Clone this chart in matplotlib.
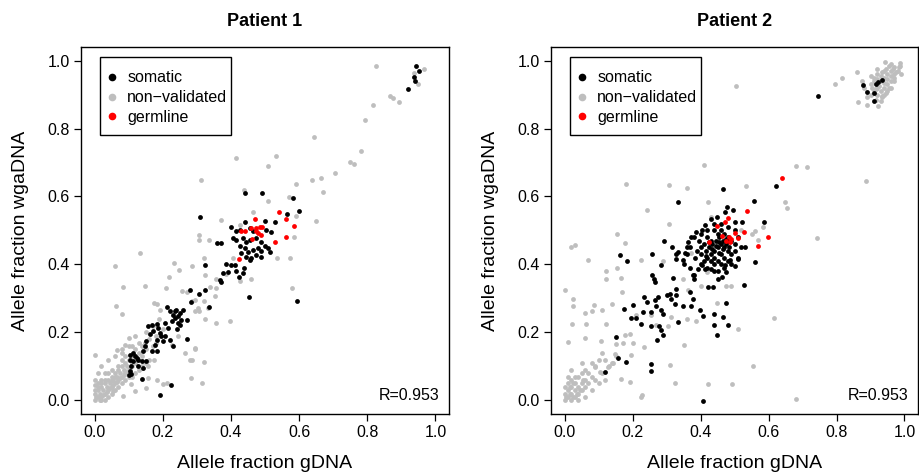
"""
Allele fraction in wgaDNA vs gDNA for two patients, somatic / non-validated /
germline calls.
"""

import matplotlib
matplotlib.use("Agg")
import matplotlib.pyplot as plt
from matplotlib.lines import Line2D
from matplotlib.patches import Rectangle
import numpy as np

plt.rcParams["font.family"] = ["Liberation Sans", "DejaVu Sans"]

GREY = "#BEBEBE"

# ---- Patient 1 : (gDNA, wgaDNA) ----
p1_nonvalid = [
	(0.826, 0.985), (0.968, 0.976), (0.937, 0.963), (0.948, 0.930),
	(0.868, 0.897), (0.875, 0.891), (0.892, 0.878), (0.816, 0.870),
	(0.794, 0.826), (0.644, 0.775), (0.782, 0.734), (0.748, 0.702),
	(0.760, 0.697), (0.706, 0.668), (0.416, 0.714), (0.533, 0.718),
	(0.509, 0.691), (0.663, 0.653), (0.639, 0.650), (0.590, 0.636),
	(0.670, 0.612), (0.312, 0.649), (0.439, 0.619), (0.509, 0.587),
	(0.570, 0.599), (0.592, 0.544), (0.465, 0.555), (0.651, 0.527),
	(0.371, 0.531), (0.585, 0.480), (0.535, 0.420), (0.572, 0.418),
	(0.580, 0.332), (0.396, 0.233), (0.357, 0.228), (0.323, 0.239),
	(0.305, 0.487), (0.305, 0.471), (0.336, 0.471), (0.133, 0.433),
	(0.060, 0.395), (0.082, 0.333), (0.149, 0.338), (0.218, 0.362),
	(0.232, 0.404), (0.248, 0.384), (0.209, 0.330), (0.286, 0.394),
	(0.320, 0.418), (0.324, 0.370), (0.355, 0.358), (0.387, 0.372),
	(0.428, 0.350), (0.460, 0.358), (0.271, 0.319), (0.294, 0.294),
	(0.321, 0.291), (0.353, 0.306), (0.304, 0.272), (0.079, 0.254),
	(0.064, 0.277), (0.182, 0.284), (0.426, 0.516), (0.406, 0.418),
	(0.357, 0.332), (0.338, 0.335), (0.294, 0.262), (0.265, 0.140),
	(0.294, 0.152), (0.279, 0.120), (0.321, 0.113), (0.284, 0.065),
	(0.316, 0.050), (0.213, 0.052), (0.182, 0.060), (0.152, 0.035),
	(0.108, 0.047), (0.084, 0.013), (0.055, 0.027), (0.000, 0.133),
	(0.065, 0.147), (0.100, 0.184), (0.090, 0.164), (0.080, 0.150),
	(0.109, 0.159), (0.148, 0.169), (0.173, 0.286), (0.192, 0.267),
	(0.256, 0.321), (0.285, 0.291), (0.305, 0.262), (0.334, 0.272),
	(0.295, 0.154), (0.285, 0.120), (0.202, 0.047), (0.158, 0.066),
	(0.119, 0.027), (0.246, 0.189), (0.227, 0.164), (0.173, 0.120),
	(0.158, 0.101), (0.139, 0.096),
	(0.00, 0.00), (0.01, 0.01), (0.02, 0.00), (0.01, 0.03), (0.03, 0.02),
	(0.02, 0.04), (0.04, 0.03), (0.03, 0.05), (0.05, 0.04), (0.04, 0.06),
	(0.06, 0.05), (0.05, 0.07), (0.07, 0.06), (0.06, 0.08), (0.08, 0.07),
	(0.07, 0.09), (0.09, 0.08), (0.08, 0.10), (0.10, 0.09), (0.09, 0.11),
	(0.11, 0.10), (0.10, 0.12), (0.12, 0.11), (0.11, 0.13), (0.13, 0.12),
	(0.00, 0.02), (0.02, 0.01), (0.01, 0.05), (0.03, 0.00), (0.05, 0.02),
	(0.04, 0.01), (0.06, 0.03), (0.02, 0.06), (0.03, 0.08), (0.05, 0.09),
	(0.07, 0.04), (0.08, 0.05), (0.09, 0.06), (0.10, 0.07), (0.12, 0.08),
	(0.01, 0.08), (0.00, 0.06), (0.02, 0.10), (0.04, 0.12), (0.06, 0.13),
	(0.08, 0.14), (0.10, 0.16), (0.12, 0.15), (0.14, 0.13), (0.15, 0.15),
	(0.13, 0.17), (0.16, 0.12), (0.14, 0.10), (0.17, 0.16), (0.12, 0.19),
	(0.15, 0.20), (0.18, 0.19), (0.20, 0.21), (0.19, 0.24), (0.17, 0.22),
	(0.015, 0.02), (0.025, 0.015), (0.035, 0.04), (0.045, 0.035),
	(0.055, 0.06), (0.065, 0.055), (0.075, 0.08), (0.085, 0.075),
	(0.095, 0.10), (0.105, 0.095), (0.005, 0.01), (0.015, 0.00),
	(0.025, 0.03), (0.035, 0.025), (0.045, 0.05), (0.055, 0.045),
	(0.065, 0.07), (0.075, 0.065), (0.085, 0.09), (0.095, 0.085),
	(0.00, 0.03), (0.00, 0.045), (0.01, 0.04), (0.02, 0.05), (0.03, 0.06),
	(0.04, 0.08), (0.05, 0.06), (0.06, 0.07), (0.07, 0.10), (0.08, 0.12),
	(0.09, 0.13), (0.11, 0.11), (0.12, 0.13), (0.13, 0.14), (0.14, 0.16),
	(0.16, 0.18), (0.18, 0.17), (0.11, 0.07), (0.13, 0.09), (0.15, 0.11),
]

p1_somatic = [
	(0.943, 0.985), (0.953, 0.968), (0.938, 0.951), (0.940, 0.941),
	(0.919, 0.915), (0.442, 0.610), (0.492, 0.610), (0.581, 0.595),
	(0.600, 0.558), (0.310, 0.541), (0.565, 0.548), (0.440, 0.525),
	(0.499, 0.527), (0.528, 0.526), (0.401, 0.509), (0.416, 0.497),
	(0.426, 0.501), (0.455, 0.506), (0.465, 0.497), (0.504, 0.501),
	(0.519, 0.495), (0.406, 0.477), (0.416, 0.472), (0.436, 0.477),
	(0.445, 0.467), (0.455, 0.472), (0.475, 0.477), (0.489, 0.467),
	(0.359, 0.463), (0.372, 0.463), (0.426, 0.453), (0.440, 0.448),
	(0.450, 0.438), (0.465, 0.443), (0.479, 0.448), (0.489, 0.440),
	(0.499, 0.453), (0.509, 0.448), (0.514, 0.438), (0.431, 0.433),
	(0.445, 0.423), (0.460, 0.418), (0.475, 0.428), (0.489, 0.423),
	(0.455, 0.413), (0.323, 0.398), (0.387, 0.401), (0.401, 0.399),
	(0.411, 0.399), (0.438, 0.391), (0.416, 0.381), (0.392, 0.379),
	(0.377, 0.374), (0.434, 0.374), (0.367, 0.355), (0.372, 0.348),
	(0.424, 0.363), (0.279, 0.326), (0.307, 0.313), (0.323, 0.326),
	(0.284, 0.289), (0.336, 0.274), (0.452, 0.305), (0.595, 0.291),
	(0.211, 0.274), (0.221, 0.262), (0.230, 0.252), (0.235, 0.242),
	(0.245, 0.247), (0.250, 0.257), (0.260, 0.267), (0.255, 0.238),
	(0.245, 0.228), (0.226, 0.233), (0.270, 0.238), (0.206, 0.228),
	(0.242, 0.211), (0.157, 0.218), (0.167, 0.223), (0.184, 0.225),
	(0.172, 0.203), (0.162, 0.194), (0.191, 0.198), (0.196, 0.189),
	(0.206, 0.189), (0.182, 0.179), (0.177, 0.164), (0.201, 0.174),
	(0.221, 0.179), (0.152, 0.174), (0.147, 0.159), (0.143, 0.145),
	(0.167, 0.145), (0.182, 0.145), (0.270, 0.182), (0.229, 0.159),
	(0.105, 0.135), (0.113, 0.140), (0.118, 0.130), (0.123, 0.125),
	(0.104, 0.120), (0.113, 0.115), (0.128, 0.120), (0.138, 0.117),
	(0.152, 0.117), (0.108, 0.101), (0.128, 0.101), (0.143, 0.096),
	(0.104, 0.086), (0.102, 0.076), (0.108, 0.078), (0.138, 0.062),
	(0.191, 0.016), (0.223, 0.044), (0.240, 0.267), (0.250, 0.223),
	(0.235, 0.262), (0.216, 0.213), (0.186, 0.213),
]

p1_germline = [
	(0.540, 0.555), (0.562, 0.534), (0.584, 0.512), (0.470, 0.533),
	(0.431, 0.499), (0.440, 0.497), (0.460, 0.508), (0.475, 0.506),
	(0.484, 0.511), (0.492, 0.511), (0.479, 0.492), (0.489, 0.487),
	(0.462, 0.475), (0.528, 0.467), (0.561, 0.481), (0.425, 0.415),
	(0.473, 0.499),
]

# ---- Patient 2 ----
p2_nonvalid = [
	(0.796, 0.931), (0.815, 0.948), (0.860, 0.966), (0.874, 0.941),
	(0.943, 0.997), (0.987, 0.993), (0.987, 0.985), (0.864, 0.878),
	(0.889, 0.870), (0.923, 0.866), (0.933, 0.892), (0.889, 0.892),
	(0.90, 0.93), (0.91, 0.95), (0.92, 0.96), (0.93, 0.94), (0.94, 0.95),
	(0.95, 0.96), (0.96, 0.97), (0.95, 0.93), (0.94, 0.92), (0.93, 0.91),
	(0.92, 0.90), (0.96, 0.94), (0.97, 0.96), (0.98, 0.97), (0.94, 0.97),
	(0.92, 0.92), (0.91, 0.91), (0.95, 0.91), (0.96, 0.92), (0.97, 0.94),
	(0.93, 0.88), (0.94, 0.90), (0.90, 0.90), (0.96, 0.99), (0.97, 0.98),
	(0.91, 0.94), (0.92, 0.945), (0.93, 0.955), (0.935, 0.965),
	(0.945, 0.975), (0.955, 0.985), (0.965, 0.975), (0.975, 0.965),
	(0.95, 0.945), (0.94, 0.935), (0.925, 0.925), (0.915, 0.915),
	(0.905, 0.92), (0.96, 0.955), (0.97, 0.95), (0.945, 0.905),
	(0.935, 0.895), (0.915, 0.885), (0.955, 0.92), (0.985, 0.98),
	(0.99, 0.96), (0.88, 0.92), (0.90, 0.955), (0.92, 0.975),
	(0.503, 0.924), (0.886, 0.645), (0.744, 0.478), (0.680, 0.691),
	(0.714, 0.686), (0.411, 0.693), (0.180, 0.638), (0.307, 0.635),
	(0.359, 0.624), (0.535, 0.632), (0.422, 0.584), (0.648, 0.585),
	(0.653, 0.566), (0.243, 0.561), (0.307, 0.519), (0.155, 0.489),
	(0.020, 0.451), (0.030, 0.456), (0.177, 0.462), (0.069, 0.412),
	(0.121, 0.380), (0.121, 0.358), (0.155, 0.389), (0.167, 0.361),
	(0.226, 0.412), (0.170, 0.319), (0.138, 0.284), (0.086, 0.281),
	(0.024, 0.299), (0.024, 0.279), (0.061, 0.258), (0.081, 0.262),
	(0.110, 0.265), (0.022, 0.225), (0.064, 0.225), (0.121, 0.225),
	(0.010, 0.172), (0.059, 0.183), (0.108, 0.176), (0.000, 0.326),
	(0.177, 0.193), (0.192, 0.196), (0.152, 0.167), (0.172, 0.170),
	(0.201, 0.170), (0.234, 0.157), (0.196, 0.134), (0.147, 0.137),
	(0.142, 0.109), (0.128, 0.098), (0.088, 0.098), (0.103, 0.083),
	(0.165, 0.062), (0.192, 0.054), (0.226, 0.010), (0.229, 0.017),
	(0.326, 0.052), (0.422, 0.049), (0.493, 0.049), (0.553, 0.100),
	(0.680, 0.005), (0.309, 0.105), (0.352, 0.164), (0.509, 0.211),
	(0.617, 0.242), (0.447, 0.286), (0.476, 0.338), (0.491, 0.338),
	(0.401, 0.336), (0.363, 0.326), (0.349, 0.358), (0.359, 0.240),
	(0.388, 0.235), (0.305, 0.219), (0.314, 0.245), (0.270, 0.221),
	(0.255, 0.250), (0.211, 0.250), (0.560, 0.497), (0.570, 0.471),
	(0.584, 0.510), (0.432, 0.409), (0.418, 0.377), (0.373, 0.434),
	(0.290, 0.409), (0.520, 0.500), (0.550, 0.490), (0.430, 0.540),
	(0.00, 0.00), (0.01, 0.01), (0.02, 0.00), (0.00, 0.02), (0.01, 0.03),
	(0.03, 0.01), (0.02, 0.02), (0.03, 0.03), (0.04, 0.02), (0.05, 0.03),
	(0.04, 0.04), (0.02, 0.04), (0.01, 0.05), (0.03, 0.05), (0.05, 0.05),
	(0.06, 0.04), (0.06, 0.06), (0.04, 0.07), (0.07, 0.05), (0.08, 0.07),
	(0.07, 0.08), (0.05, 0.08), (0.09, 0.06), (0.02, 0.06), (0.00, 0.04),
	(0.03, 0.07), (0.06, 0.01), (0.08, 0.03), (0.10, 0.05), (0.11, 0.08),
	(0.09, 0.10), (0.12, 0.06), (0.13, 0.10), (0.10, 0.12), (0.01, 0.07),
	(0.04, 0.00), (0.06, 0.09), (0.08, 0.11), (0.12, 0.12), (0.14, 0.11),
	(0.02, 0.09), (0.05, 0.11), (0.11, 0.14), (0.15, 0.13),
	(0.005, 0.01), (0.015, 0.02), (0.025, 0.01), (0.035, 0.02),
	(0.045, 0.03), (0.015, 0.04), (0.025, 0.05), (0.055, 0.06),
]

p2_somatic = [
	(0.745, 0.897), (0.879, 0.929), (0.917, 0.932), (0.923, 0.936),
	(0.933, 0.943), (0.889, 0.907), (0.911, 0.904), (0.911, 0.882),
	(0.623, 0.631), (0.467, 0.621), (0.334, 0.583), (0.557, 0.587),
	(0.588, 0.524), (0.162, 0.428), (0.184, 0.409), (0.257, 0.430),
	(0.292, 0.468), (0.284, 0.399), (0.560, 0.406), (0.527, 0.339),
	(0.476, 0.286), (0.174, 0.268), (0.201, 0.282), (0.152, 0.186),
	(0.157, 0.125), (0.180, 0.112), (0.119, 0.083), (0.255, 0.108),
	(0.255, 0.086), (0.408, -0.002), (0.449, 0.191), (0.439, 0.223),
	(0.481, 0.221), (0.467, 0.244), (0.440, 0.254), (0.408, 0.248),
	(0.398, 0.265), (0.273, 0.179), (0.290, 0.191), (0.283, 0.206),
	(0.253, 0.219), (0.277, 0.219), (0.224, 0.224), (0.209, 0.242),
	(0.194, 0.242), (0.232, 0.260), (0.255, 0.260), (0.234, 0.304),
	(0.241, 0.289), (0.265, 0.294), (0.275, 0.304), (0.270, 0.279),
	(0.285, 0.265), (0.290, 0.255), (0.300, 0.309), (0.309, 0.314),
	(0.314, 0.299), (0.329, 0.309), (0.324, 0.284), (0.334, 0.230),
	(0.349, 0.279), (0.373, 0.279), (0.370, 0.319), (0.378, 0.299),
	(0.319, 0.360), (0.329, 0.328), (0.257, 0.368), (0.263, 0.358),
	(0.265, 0.348), (0.317, 0.451), (0.327, 0.431), (0.334, 0.436),
	(0.329, 0.417), (0.349, 0.412), (0.354, 0.433), (0.359, 0.451),
	(0.371, 0.480), (0.363, 0.466), (0.388, 0.495), (0.403, 0.500),
	(0.414, 0.515), (0.432, 0.534), (0.447, 0.539), (0.479, 0.569),
	(0.496, 0.559), (0.501, 0.526), (0.472, 0.554), (0.521, 0.526),
	(0.530, 0.451), (0.511, 0.417), (0.501, 0.395), (0.476, 0.377),
	(0.462, 0.363), (0.452, 0.358), (0.437, 0.333), (0.422, 0.333),
	(0.381, 0.358), (0.378, 0.368), (0.393, 0.387), (0.403, 0.397),
	(0.413, 0.387), (0.432, 0.387), (0.452, 0.382), (0.471, 0.397),
	(0.486, 0.412),
	(0.415, 0.44), (0.425, 0.45), (0.435, 0.46), (0.445, 0.47),
	(0.455, 0.48), (0.465, 0.47), (0.475, 0.46), (0.485, 0.45),
	(0.43, 0.43), (0.44, 0.44), (0.45, 0.45), (0.46, 0.46), (0.47, 0.45),
	(0.48, 0.44), (0.42, 0.42), (0.44, 0.42), (0.46, 0.43), (0.47, 0.42),
	(0.45, 0.41), (0.43, 0.41), (0.41, 0.46), (0.43, 0.47), (0.45, 0.49),
	(0.47, 0.49), (0.48, 0.48), (0.49, 0.47), (0.46, 0.50), (0.44, 0.50),
	(0.42, 0.48), (0.40, 0.45), (0.40, 0.43), (0.41, 0.41), (0.44, 0.40),
	(0.46, 0.40), (0.48, 0.41), (0.49, 0.43), (0.50, 0.44), (0.50, 0.46),
	(0.48, 0.47), (0.455, 0.435), (0.435, 0.445), (0.445, 0.455),
	(0.465, 0.445), (0.475, 0.475), (0.455, 0.465), (0.425, 0.465),
	(0.415, 0.425), (0.395, 0.47), (0.39, 0.44), (0.385, 0.42),
	(0.37, 0.45), (0.38, 0.48), (0.40, 0.49), (0.42, 0.50), (0.44, 0.52),
	(0.46, 0.52), (0.48, 0.51), (0.50, 0.50), (0.51, 0.48), (0.52, 0.45),
	(0.51, 0.42), (0.49, 0.40), (0.47, 0.39), (0.44, 0.38), (0.42, 0.39),
	(0.40, 0.40), (0.36, 0.43), (0.35, 0.40), (0.37, 0.39), (0.38, 0.37),
]

p2_germline = [
	(0.640, 0.654), (0.538, 0.557), (0.481, 0.537), (0.472, 0.525),
	(0.447, 0.512), (0.501, 0.492), (0.527, 0.495), (0.509, 0.478),
	(0.462, 0.483), (0.483, 0.480), (0.491, 0.475), (0.476, 0.468),
	(0.486, 0.466), (0.425, 0.466), (0.598, 0.481), (0.570, 0.453),
]

titles = ["Patient 1", "Patient 2"]
r_labels = ["R=0.953", "R=0.953"]
ticks = [0.0, 0.2, 0.4, 0.6, 0.8, 1.0]
legend_labels = ["somatic", "non\u2212validated", "germline"]


def panel(ax, nonvalid, somatic, germline, title, rlab):
	for pts, c in [(nonvalid, GREY), (somatic, "black"), (germline, "red")]:
		arr = np.array(pts)
		ax.scatter(arr[:, 0], arr[:, 1], s = 12, c = c, linewidths = 0,
			zorder = 2)
	ax.set_xlim(-0.04, 1.04)
	ax.set_ylim(-0.04, 1.04)
	ax.set_xticks(ticks)
	ax.set_yticks(ticks)
	ax.set_xticklabels(["%.1f" % t for t in ticks])
	ax.set_yticklabels(["%.1f" % t for t in ticks])
	ax.tick_params(direction = "out", length = 5, width = 0.9,
		labelsize = 11.5, pad = 3)
	for s in ax.spines.values():
		s.set_linewidth(1.0)
	ax.set_xlabel("Allele fraction gDNA", fontsize = 14, labelpad = 11)
	ax.set_ylabel("Allele fraction wgaDNA", fontsize = 14, labelpad = 13)
	ax.set_title(title, fontsize = 13, fontweight = "bold", pad = 15)
	ax.text(0.975, 0.03, rlab, transform = ax.transAxes, ha = "right",
		va = "bottom", fontsize = 11.5)
	# R-style legend: entries without frame, box drawn separately
	handles = [
		Line2D([], [], ls = "none", marker = "o", ms = 5.5, mew = 0,
			color = c) for c in ["black", GREY, "red"]
	]
	ax.legend(handles, legend_labels, loc = "upper left",
		bbox_to_anchor = (0.030, 0.973), borderaxespad = 0, fontsize = 11.5,
		frameon = False, handlelength = 0.8, handletextpad = 0.55,
		labelspacing = 0.3, borderpad = 0.85)
	ax.add_patch(Rectangle((0.051, 0.760), 0.357, 0.213,
		transform = ax.transAxes, fill = False, edgecolor = "black",
		linewidth = 1.0, zorder = 5))


if __name__ == "__main__":
	fig = plt.figure(figsize = (9.19, 4.76), dpi = 100)
	ax1 = fig.add_axes([0.0881, 0.1303, 0.4005, 0.771])
	ax2 = fig.add_axes([0.5996, 0.1303, 0.3994, 0.771])
	panel(ax1, p1_nonvalid, p1_somatic, p1_germline, titles[0], r_labels[0])
	panel(ax2, p2_nonvalid, p2_somatic, p2_germline, titles[1], r_labels[1])
	fig.savefig("out.png", dpi = 100)
